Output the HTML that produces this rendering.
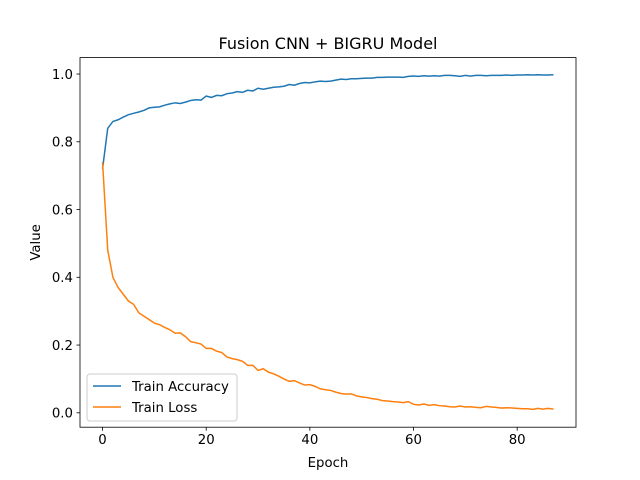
<!DOCTYPE html>
<html><head><meta charset="utf-8"><style>
body{margin:0;background:#fff;}
svg{display:block;font-family:"DejaVu Sans","Liberation Sans",sans-serif;}
</style></head><body>
<svg id="chart" width="640" height="480"></svg>
<script>
const epochs = Array.from({length:88},(_,i)=>i);
const accuracy = [.72,.84,.86,.865,.873,.88,.884,.888,.893,.9,.902,.903,.908,.912,.915,.913,.917,.922,.924,.923,.935,.931,.937,.936,.942,.944,.948,.946,.952,.95,.958,.955,.958,.961,.962,.964,.969,.967,.972,.975,.974,.977,.979,.978,.979,.982,.985,.984,.986,.986,.987,.988,.988,.99,.99,.991,.991,.991,.99,.993,.994,.993,.995,.994,.995,.994,.996,.996,.995,.993,.996,.994,.996,.996,.995,.996,.996,.996,.997,.996,.997,.997,.998,.997,.998,.997,.997,.998];
const loss = [.74,.48,.40,.37,.35,.33,.32,.295,.285,.275,.265,.26,.252,.245,.235,.236,.225,.21,.207,.203,.19,.19,.182,.178,.165,.16,.157,.152,.14,.14,.125,.13,.12,.115,.108,.1,.093,.095,.088,.082,.083,.078,.071,.068,.066,.061,.057,.055,.056,.05,.047,.045,.042,.04,.036,.035,.033,.032,.03,.033,.025,.023,.026,.022,.024,.021,.02,.018,.017,.02,.017,.018,.016,.015,.019,.017,.016,.014,.015,.014,.013,.012,.012,.01,.013,.011,.013,.011];
const xTicks = [0,20,40,60,80];
const yTicks = [0.0,0.2,0.4,0.6,0.8,1.0];

const L=80,R=576,T=57.6,B=427.2;
const xMin=-4.35,xMax=91.35,yMin=-0.0425,yMax=1.0485;
const sx=v=>L+(v-xMin)/(xMax-xMin)*(R-L);
const sy=v=>B-(v-yMin)/(yMax-yMin)*(B-T);
const svg=document.getElementById('chart');
const NS='http://www.w3.org/2000/svg';
function mk(tag,attrs,parent){const e=document.createElementNS(NS,tag);for(const k in attrs)e.setAttribute(k,attrs[k]);(parent||svg).appendChild(e);return e;}
function txt(s,attrs){const e=mk('text',attrs);e.textContent=s;return e;}

xTicks.forEach(v=>{
  const g=mk('g',{});
  
  
  mk('line',{x1:sx(v),x2:sx(v),y1:B,y2:B+3.5,stroke:'#000','stroke-width':0.8},g);
  const t=mk('text',{x:sx(v),y:B+17,'text-anchor':'middle','font-size':'13.3px'},g);t.textContent=v;
});
yTicks.forEach(v=>{
  const g=mk('g',{});
  
  
  mk('line',{x1:L-3.5,x2:L,y1:sy(v),y2:sy(v),stroke:'#000','stroke-width':0.8},g);
  const t=mk('text',{x:L-7,y:sy(v)+4.8,'text-anchor':'end','font-size':'13.3px'},g);t.textContent=v.toFixed(1);
});
function line(arr,color,name){
  const p=mk('polyline',{points:arr.map((v,i)=>sx(epochs[i])+','+sy(v)).join(' '),fill:'none',stroke:color,'stroke-width':1.5});
  
  
}
line(accuracy,'#1f77b4','train-accuracy-line');
line(loss,'#ff7f0e','train-loss-line');
const frame=mk('rect',{x:L,y:T,width:R-L,height:B-T,fill:'none',stroke:'#000','stroke-width':0.8});


const title=txt('Fusion CNN + BIGRU Model',{x:(L+R)/2,y:49,'text-anchor':'middle','font-size':'16px'});


const xl=txt('Epoch',{x:(L+R)/2,y:467,'text-anchor':'middle','font-size':'13.3px'});


const yl=txt('Value',{x:0,y:0,'text-anchor':'middle','font-size':'13.3px',transform:`translate(40,${(T+B)/2}) rotate(-90)`});


const lg=mk('g',{});


mk('rect',{x:87,y:374,width:150,height:47,rx:3,fill:'#fff','fill-opacity':0.8,stroke:'#ccc'},lg);
[['Train Accuracy','#1f77b4',386],['Train Loss','#ff7f0e',407]].forEach(([n,c,y])=>{
  const e=mk('g',{},lg);
  
  
  mk('line',{x1:93,x2:121,y1:y,y2:y,stroke:c,'stroke-width':1.5},e);
  const t=mk('text',{x:132,y:y+4.8,'font-size':'13.3px'},e);t.textContent=n;
});
</script>
</body></html>
